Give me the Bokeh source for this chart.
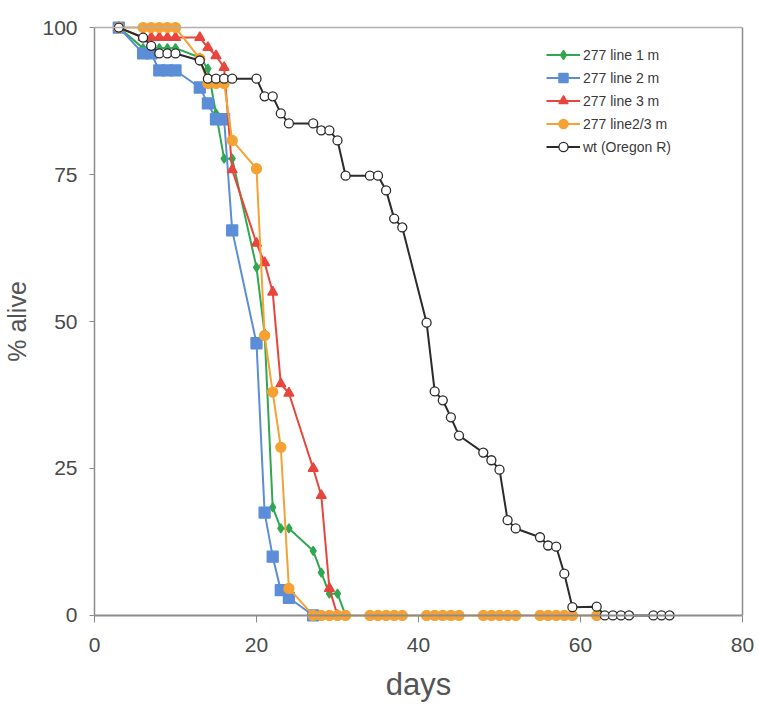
from bokeh.plotting import figure
from bokeh.models import Range1d, LinearAxis, Span, Legend, LegendItem, FixedTicker
from bokeh.embed import file_html
from bokeh.resources import INLINE

# ---------------- data ----------------
series_labels = ["277 line 1 m", "277 line 2 m", "277 line 3 m", "277 line2/3 m", "wt (Oregon R)"]

line1_days = [3, 6, 7, 8, 9, 10, 13, 14, 15, 16, 17, 20, 21, 22, 23, 24, 27, 28, 29, 30, 31]
line1_alive = [100, 96.5, 96.5, 96.5, 96.5, 96.5, 94.9, 93, 85.4, 77.7, 77.7, 59.2, 48, 18.4, 14.8, 14.8,
               11, 7.3, 3.7, 3.7, 0]

line2_days = [3, 6, 7, 8, 9, 10, 13, 14, 15, 16, 17, 20, 21, 22, 23, 24, 27]
line2_alive = [100, 95.6, 95.6, 92.7, 92.7, 92.7, 89.8, 87.1, 84.4, 84.4, 65.5, 46.3, 17.5, 10, 4.3, 3, 0]

line3_days = [3, 6, 7, 8, 9, 10, 13, 14, 15, 16, 17, 20, 21, 22, 23, 24, 27, 28, 29, 30]
line3_alive = [100, 98.3, 98.3, 98.3, 98.3, 98.3, 98.3, 96.6, 95.2, 93.2, 75.8, 63.3, 60, 55, 39.4, 37.8,
               25, 20.4, 4.6, 0]

line23_days = [3, 6, 7, 8, 9, 10, 13, 14, 15, 16, 17, 20, 21, 22, 23, 24, 27, 28, 29, 30, 31,
               34, 35, 36, 37, 38, 41, 42, 43, 44, 45, 48, 49, 50, 51, 52, 55, 56, 57, 58, 59, 62]
line23_alive = [100, 100, 100, 100, 100, 100, 94.7, 90.5, 90.5, 90.5, 80.8, 76, 47.6, 38, 28.6, 4.6,
                0, 0, 0, 0, 0, 0, 0, 0, 0, 0, 0, 0, 0, 0, 0, 0, 0, 0, 0, 0, 0, 0, 0, 0, 0, 0]

wt_days = [3, 6, 7, 8, 9, 10, 13, 14, 15, 16, 17, 20, 21, 22, 23, 24, 27, 28, 29, 30, 31,
           34, 35, 36, 37, 38, 41, 42, 43, 44, 45, 48, 49, 50, 51, 52, 55, 56, 57, 58, 59,
           62, 63, 64, 65, 66, 69, 70, 71]
wt_alive = [100, 98.3, 96.9, 95.6, 95.6, 95.6, 94.4, 91.3, 91.3, 91.3, 91.3, 91.3, 88.3, 88.3, 85.4, 83.7,
            83.7, 82.5, 82.5, 80.8, 74.8, 74.8, 74.8, 72.3, 67.5, 66, 49.8, 38.1, 36.6, 33.7, 30.6,
            27.7, 26.4, 24.8, 16.2, 14.8, 13.3, 11.9, 11.7, 7.1, 1.4, 1.5, 0, 0, 0, 0, 0, 0, 0]

x_ticks = [0, 20, 40, 60, 80]
y_ticks = [0, 25, 50, 75, 100]

# ---------------- figure ----------------
FONT = "Liberation Sans"
AXIS_GREY = "#8c8c8c"
TEXT_GREY = "#4a4a4a"

p = figure(frame_width=648, frame_height=602, output_backend="svg", toolbar_location=None,
           x_range=Range1d(0, 80), y_range=Range1d(-1.2, 101.2),
           min_border_left=94, min_border_right=17, min_border_top=20, min_border_bottom=82,
           x_axis_label="days", y_axis_label="% alive")
p.background_fill_color = "white"
p.border_fill_color = "white"
p.outline_line_color = None
p.xgrid.visible = False
p.ygrid.visible = False

# x axis (line drawn by a span at y=0)
xa = p.xaxis[0]
xa.ticker = FixedTicker(ticks=x_ticks)
xa.axis_line_alpha = 0
xa.major_tick_in = 7
xa.major_tick_out = 0
xa.minor_tick_line_color = None
xa.major_tick_line_color = AXIS_GREY
xa.major_label_standoff = 15
xa.major_label_text_font = FONT
xa.major_label_text_font_size = "21px"
xa.major_label_text_color = TEXT_GREY
xa.axis_label_text_font = FONT
xa.axis_label_text_font_size = "31px"
xa.axis_label_text_font_style = "normal"
xa.axis_label_text_color = "#555555"
xa.axis_label_standoff = 12

ya = p.yaxis[0]
ya.ticker = FixedTicker(ticks=y_ticks)
ya.bounds = (0, 100)
ya.axis_line_color = AXIS_GREY
ya.axis_line_width = 1.5
ya.major_tick_in = 0
ya.major_tick_out = 5
ya.minor_tick_line_color = None
ya.major_tick_line_color = AXIS_GREY
ya.major_label_standoff = 12
ya.major_label_text_font = FONT
ya.major_label_text_font_size = "21px"
ya.major_label_text_color = TEXT_GREY
ya.axis_label_text_font = FONT
ya.axis_label_text_font_size = "25px"
ya.axis_label_text_font_style = "normal"
ya.axis_label_text_color = "#555555"
ya.axis_label_standoff = 8

ra = LinearAxis(bounds=(0, 100), ticker=FixedTicker(ticks=[]), major_tick_in=0, major_tick_out=0,
                minor_tick_line_color=None, major_label_text_font_size="0px",
                axis_line_color=AXIS_GREY, axis_line_width=1.5)
p.add_layout(ra, "right")

p.add_layout(Span(location=0, dimension="width", line_color=AXIS_GREY, line_width=2))
p.add_layout(Span(location=100, dimension="width", line_color="#b0b0b0", line_width=1.5))

# ---------------- series ----------------
styles = [
    (line1_days, line1_alive, "#2fa84f", "diamond", 9, None),
    (line2_days, line2_alive, "#5b8ed6", "square", 11, None),
    (line3_days, line3_alive, "#e8453c", "triangle", 10, None),
    (line23_days, line23_alive, "#f6a133", "circle", 10, None),
    (wt_days, wt_alive, "#2b2b2b", "circle", 9, "white"),
]

items = []
for (xs, ys, col, mk, sz, fill), lab in zip(styles, series_labels):
    lr = p.line(xs, ys, line_color=col, line_width=2)
    sr = p.scatter(xs, ys, marker=mk, size=sz, line_color=col,
                   fill_color=(fill if fill else col), line_width=1.3)
    items.append(LegendItem(label=lab, renderers=[lr, sr]))

legend = Legend(items=items, location=(448, 460), orientation="vertical",
                label_text_font=FONT, label_text_font_size="14px", label_text_color="#3a3a3a",
                label_height=23, glyph_height=23, glyph_width=34, label_standoff=3,
                spacing=0, padding=4, margin=0,
                border_line_alpha=0, background_fill_alpha=0)
p.add_layout(legend, "center")

open("out.html", "w").write(file_html(p, INLINE))
